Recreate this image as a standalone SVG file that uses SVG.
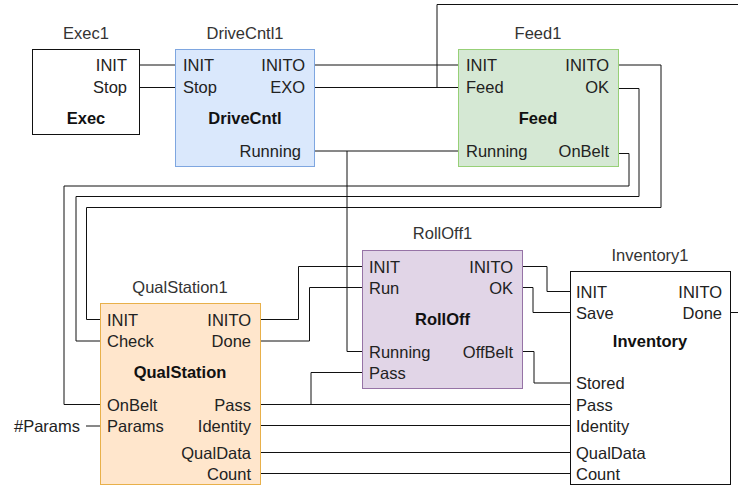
<svg xmlns="http://www.w3.org/2000/svg" width="738" height="486" viewBox="0 0 738 486">
<style>
text{font-family:"Liberation Sans",Arial,Helvetica,sans-serif;font-size:16.5px;fill:#222}
.t{fill:#333}
.b{font-weight:bold;text-anchor:middle;fill:#111}
.c{text-anchor:middle}
.r{text-anchor:end}
.w{fill:none;stroke:#111;stroke-width:1}
</style>
<rect width="738" height="486" fill="#fff"/>
<g id="connectors" class="w">
<path d="M129 65H182"/>
<path d="M129 87.5H182"/>
<path d="M309 65H465"/>
<path d="M309 87.5H465"/>
<path d="M437 87.5V4.5H738"/>
<path d="M303 151H465"/>
<path d="M347 151V351.5H368"/>
<path d="M612 65H661V207.5H86.5V319.5H105"/>
<path d="M612 88.5H639V196.5H76V341H105"/>
<path d="M612 153.5H629V186H64V404.5H105"/>
<path d="M86 426H105"/>
<path d="M254 319.5H298.5V266.5H368"/>
<path d="M254 341H309.5V287.5H368"/>
<path d="M254 404.5H574"/>
<path d="M311 404.5V372.5H368"/>
<path d="M254 425.5H574"/>
<path d="M254 452.5H574"/>
<path d="M254 473.5H574"/>
<path d="M515 266.5H547V291.5H574"/>
<path d="M515 287.5H533V312.5H574"/>
<path d="M515 351.5H534V383H574"/>
<path d="M725 312.5H738"/>
</g>
<g id="Exec1">
<rect x="32.5" y="49.5" width="107" height="85" fill="#fff" stroke="#111"/>
<text class="c t" x="86" y="39">Exec1</text>
<text class="r" x="127" y="71">INIT</text>
<text class="r" x="127" y="93">Stop</text>
<text class="b" x="86" y="124">Exec</text>
</g>
<g id="DriveCntl1">
<rect x="175.5" y="49.5" width="139" height="117" fill="#dae8fc" stroke="#7ea6e0"/>
<text class="c t" x="245" y="39">DriveCntl1</text>
<text x="183" y="71">INIT</text>
<text x="183" y="93">Stop</text>
<text class="r" x="305" y="71">INITO</text>
<text class="r" x="305" y="93">EXO</text>
<text class="b" x="245" y="124">DriveCntl</text>
<text class="r" x="301" y="157">Running</text>
</g>
<g id="Feed1">
<rect x="458.5" y="49.5" width="160" height="117" fill="#d5e8d4" stroke="#97d077"/>
<text class="c t" x="538" y="39">Feed1</text>
<text x="466" y="71">INIT</text>
<text x="466" y="93">Feed</text>
<text x="466" y="157">Running</text>
<text class="r" x="609" y="71">INITO</text>
<text class="r" x="609" y="93">OK</text>
<text class="r" x="609" y="157">OnBelt</text>
<text class="b" x="538" y="124">Feed</text>
</g>
<g id="RollOff1">
<rect x="362.5" y="250.5" width="160" height="138" fill="#e1d5e7" stroke="#9673a6"/>
<text class="c t" x="442.5" y="239">RollOff1</text>
<text x="369" y="272.5">INIT</text>
<text x="369" y="293.5">Run</text>
<text x="369" y="357.5">Running</text>
<text x="369" y="378.5">Pass</text>
<text class="r" x="513" y="272.5">INITO</text>
<text class="r" x="513" y="293.5">OK</text>
<text class="r" x="513" y="357.5">OffBelt</text>
<text class="b" x="442.5" y="325">RollOff</text>
</g>
<g id="QualStation1">
<rect x="100.5" y="303.5" width="160" height="181" fill="#ffe6cc" stroke="#e8b04a"/>
<text class="c t" x="180" y="293">QualStation1</text>
<text x="107" y="325.5">INIT</text>
<text x="107" y="347">Check</text>
<text x="107" y="410.5">OnBelt</text>
<text x="107" y="432">Params</text>
<text class="r" x="251" y="325.5">INITO</text>
<text class="r" x="251" y="347">Done</text>
<text class="r" x="251" y="410.5">Pass</text>
<text class="r" x="251" y="432">Identity</text>
<text class="r" x="251" y="458.5">QualData</text>
<text class="r" x="251" y="479.5">Count</text>
<text class="b" x="180" y="378">QualStation</text>
</g>
<g id="Params">
<text class="r" x="80" y="432">#Params</text>
</g>
<g id="Inventory1">
<rect x="570.5" y="271.5" width="160" height="213" fill="#fff" stroke="#111"/>
<text class="c t" x="650" y="261">Inventory1</text>
<text x="576" y="297.5">INIT</text>
<text x="576" y="318.5">Save</text>
<text x="576" y="389">Stored</text>
<text x="576" y="410.5">Pass</text>
<text x="576" y="432">Identity</text>
<text x="576" y="458.5">QualData</text>
<text x="576" y="479.5">Count</text>
<text class="r" x="722" y="297.5">INITO</text>
<text class="r" x="722" y="318.5">Done</text>
<text class="b" x="650" y="347">Inventory</text>
</g>
</svg>
